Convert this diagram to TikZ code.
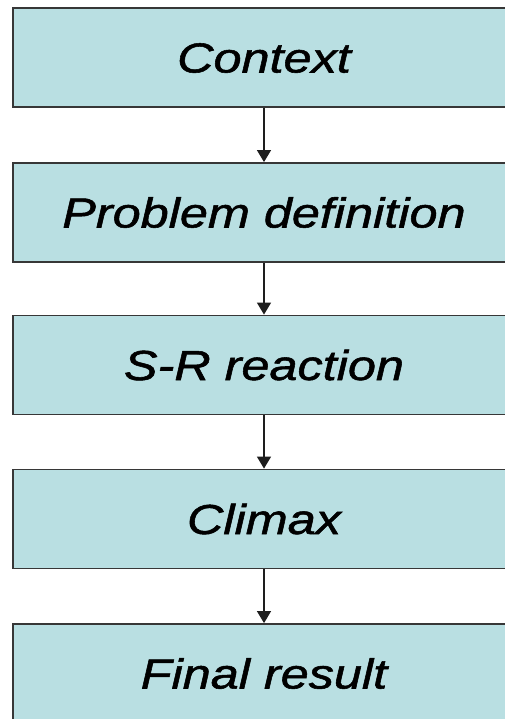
\documentclass[tikz,border=0pt]{standalone}
\usepackage{fontspec}
\newfontfamily\boxfont[FakeStretch=1.2,FakeBold=1.3]{Liberation Sans}
\usetikzlibrary{arrows.meta}
\definecolor{boxfill}{RGB}{185,223,226}
\definecolor{boxline}{RGB}{55,55,55}
\definecolor{arrowline}{RGB}{30,30,30}
\tikzset{
  stage/.style={draw=boxline, line width=1.8pt, fill=boxfill,
    minimum width=502pt, minimum height=99pt, inner sep=0pt,
    text height=30pt, text depth=0pt,
    font=\boxfont\itshape\fontsize{42}{50}\selectfont},
  flow/.style={draw=arrowline, line width=1.4pt,
    -{Triangle[width=14pt,length=12pt]}}
}
\begin{document}
\begin{tikzpicture}[x=1pt,y=-1pt]
  \useasboundingbox (0,0) rectangle (505,719);
  \fill[white] (0,0) rectangle (505,719);
  \clip (0,0) rectangle (505,719);
  % the five stages, top to bottom
  \node[stage] (context) at (264,57.5) {Context};
  \node[stage] (problem) at (264,212.5) {Problem definition};
  \node[stage] (reaction) at (264,365) {S-R reaction};
  \node[stage] (climax) at (264,519) {Climax};
  \node[stage] (result) at (264,673.5) {Final result};
  % connectors between consecutive stages
  \draw[flow] (context) -- (problem);
  \draw[flow] (problem) -- (reaction);
  \draw[flow] (reaction) -- (climax);
  \draw[flow] (climax) -- (result);
\end{tikzpicture}
\end{document}
